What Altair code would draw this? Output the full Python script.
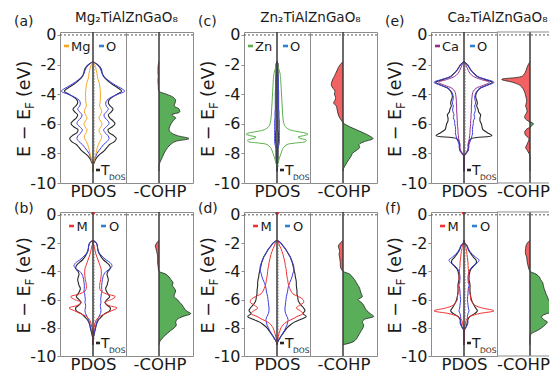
import altair as alt
import pandas as pd

FONT = "DejaVu Sans"

# energy grid (eV) shared by most curves
E_GRID = [-1.8, -2.0, -2.2, -2.4, -2.6, -2.8, -3.0, -3.2, -3.4, -3.6,
          -3.8, -4.0, -4.2, -4.4, -4.6, -4.8, -5.0, -5.2, -5.4, -5.6,
          -5.8, -6.0, -6.2, -6.4, -6.6, -6.8, -7.0, -7.2, -7.4, -7.6,
          -7.8, -8.0, -8.2, -8.4, -8.6, -8.8, -9.0, -9.2]
Y_TICKS = [0, -2, -4, -6, -8, -10]

# ---- (a) Mg2TiAlZnGaO8
A_TOT = [0, 14, 22, 26, 28, 32, 40, 50, 62, 76, 86, 72, 58, 48, 46, 52, 60, 55, 46, 50,
         60, 66, 58, 45, 48, 62, 70, 64, 50, 42, 35, 24, 14, 8, 4, 0, 0, 0]
A_O = [0, 12, 20, 24, 27, 32, 42, 54, 68, 84, 95, 75, 55, 42, 38, 40, 46, 40, 33, 36,
       45, 48, 40, 32, 36, 45, 48, 42, 32, 25, 18, 12, 8, 5, 2, 0, 0, 0]
A_M = [0, 5, 8, 10, 12, 13, 15, 18, 20, 21, 22, 23, 22, 22, 21, 20, 24, 26, 22, 18,
       22, 27, 24, 18, 20, 26, 25, 20, 16, 13, 11, 9, 7, 5, 2, 0, 0, 0]
A_COHP = [0, -2, -3, -3, -3, -2, -3, -3, -2, -2, 0, 22, 42, 50, 48, 46, 60, 62, 38, 50,
          42, 36, 32, 30, 36, 55, 90, 48, 35, 26, 20, 15, 11, 7, 3, 0, 0, 0]

# ---- (c) Zn2TiAlZnGaO8
C_TOT = [0, 3, 3, 3, 3, 3, 3, 3, 3, 3, 3, 3, 3, 3, 3, 3, 3, 3, 3, 3,
         3, 3, 3, 3, 4, 4, 4, 4, 3, 3, 3, 3, 3, 3, 2, 1, 0, 0]
C_O = [0, 0, 0, 0, 0, 3, 4, 4, 4, 4, 5, 5, 5, 5, 5, 5, 5, 6, 6, 6,
       7, 7, 7, 7, 7, 7, 7, 7, 6, 3, 0, 0, 0, 0, 0, 0, 0, 0]
C_ZN_E = [-2.0, -2.2, -2.4, -2.6, -2.8, -3.0, -3.4, -3.8, -4.2, -4.6,
          -5.0, -5.4, -5.8, -6.0, -6.2, -6.4, -6.5, -6.6, -6.7, -6.8,
          -6.9, -7.0, -7.1, -7.2, -7.3, -7.4, -7.6, -7.8, -8.0, -8.2,
          -8.4, -8.6, -8.8, -9.0]
C_M = [0, 4, 7, 9, 10, 11, 12, 13, 14, 15, 16, 17, 19, 21, 25, 38, 55, 80, 93, 80,
       63, 72, 88, 86, 55, 30, 20, 15, 12, 9, 6, 4, 1, 0]
C_COHP = [0, -8, -14, -18, -22, -26, -31, -34, -35, -30, -24, -26, -22, -24, -28, -20, -18, -16, -14, -10,
          -4, 4, 20, 40, 60, 78, 90, 65, 48, 50, 40, 28, 24, 18, 12, 7, 2, 0]

# ---- (e) Ca2TiAlZnGaO8
E_TOT = [0, 10, 16, 22, 30, 40, 62, 85, 68, 48, 40, 36, 35, 38, 40, 38, 42, 44, 50, 48,
         48, 52, 54, 57, 70, 84, 22, 15, 13, 14, 12, 6, 0, 0, 0, 0, 0, 0]
E_O = [0, 10, 15, 21, 29, 40, 66, 90, 70, 48, 38, 34, 32, 33, 35, 32, 34, 33, 30, 32,
       28, 28, 26, 25, 26, 24, 22, 18, 15, 14, 12, 6, 0, 0, 0, 0, 0, 0]
E_M = [0, 5, 9, 13, 18, 28, 50, 76, 58, 36, 28, 25, 24, 23, 23, 22, 22, 22, 21, 21,
       20, 20, 19, 18, 18, 17, 16, 14, 12, 12, 10, 5, 0, 0, 0, 0, 0, 0]
E_COHP = [0, -5, -9, -12, -16, -25, -85, -52, -30, -22, -17, -14, -12, -10, -11, -13, -10, -9, -14, -16,
          -6, 10, 2, -12, -16, -12, -3, -5, -9, -13, -8, -3, 0, 0, 0, 0, 0, 0]

# ---- (b)
B_TOT = [0, 10, 13, 14, 16, 20, 25, 32, 42, 50, 52, 45, 42, 44, 46, 44, 42, 38, 40, 45,
         50, 42, 36, 42, 52, 50, 35, 26, 18, 13, 10, 8, 6, 4, 2, 0, 0, 0]
B_O = [0, 10, 13, 14, 16, 22, 30, 40, 52, 57, 52, 40, 33, 30, 28, 27, 26, 26, 27, 25,
       24, 23, 24, 22, 23, 24, 22, 18, 14, 11, 9, 7, 5, 3, 1, 0, 0, 0]
B_M = [0, 0, 3, 5, 7, 9, 12, 15, 18, 21, 24, 25, 25, 24, 23, 21, 20, 20, 24, 40,
       67, 55, 35, 45, 72, 55, 37, 20, 11, 7, 5, 3, 2, 1, 0, 0, 0, 0]
B_COHP = [0, -7, -11, -9, -7, -5, -4, -4, -4, -3, -2, 0, 20, 30, 36, 42, 40, 46, 50, 47,
          45, 55, 62, 70, 75, 82, 95, 72, 55, 50, 52, 46, 35, 25, 15, 8, 2, 0]

# ---- (d)
D_TOT = [0, 12, 18, 25, 30, 35, 40, 43, 46, 48, 50, 52, 54, 55, 57, 58, 58, 59, 60, 60,
         62, 63, 66, 72, 80, 84, 78, 88, 72, 52, 40, 30, 24, 18, 12, 7, 2, 0]
D_O = [0, 12, 18, 25, 30, 35, 40, 44, 47, 50, 51, 50, 47, 45, 42, 38, 35, 33, 32, 30,
       28, 27, 26, 25, 24, 24, 26, 30, 33, 32, 30, 26, 22, 17, 12, 7, 2, 0]
D_M = [0, 5, 8, 12, 15, 18, 20, 22, 24, 25, 27, 28, 29, 30, 32, 33, 35, 38, 42, 48,
       65, 78, 80, 68, 58, 70, 78, 60, 45, 28, 18, 12, 9, 6, 4, 2, 0, 0]
D_COHP = [0, -8, -14, -12, -10, -12, -10, -9, -8, -8, -6, 0, 20, 28, 35, 40, 45, 50, 52, 55,
          58, 45, 55, 62, 66, 72, 82, 92, 65, 58, 62, 60, 55, 50, 45, 40, 30, 0]

# ---- (f)
F_TOT = [0, 2, 9, 12, 16, 22, 28, 36, 37, 30, 22, 18, 16, 15, 15, 17, 18, 18, 18, 19,
         20, 22, 25, 30, 35, 40, 32, 18, 12, 10, 8, 5, 0, 0, 0, 0, 0, 0]
F_O = [0, 2, 10, 13, 18, 25, 35, 45, 40, 28, 20, 15, 13, 12, 12, 14, 15, 13, 12, 12,
       11, 10, 11, 12, 13, 15, 12, 10, 10, 12, 10, 5, 0, 0, 0, 0, 0, 0]
F_M = [0, 0, 5, 6, 8, 9, 10, 11, 12, 12, 13, 14, 14, 15, 15, 12, 18, 15, 15, 18,
       20, 20, 25, 32, 55, 90, 45, 18, 8, 5, 3, 0, 0, 0, 0, 0, 0, 0]
F_COHP = [0, -8, -12, -13, -14, -13, -10, -9, -8, -6, -4, 0, 18, 28, 32, 38, 40, 42, 45, 48,
          52, 55, 60, 65, 72, 82, 50, 35, 40, 52, 45, 35, 22, 5, 0, 0, 0, 0]

# small M states right at the Fermi level (bottom row)
BLIP_E = [0.2, 0.1, 0.0]
BLIP_M = [5, 4, 0]

# dotted guide span (E top, E bottom) per panel
DOT_SPAN = {"a": [-1.9, -8.7], "c": [-1.9, -8.9], "e": [-1.9, -8.1],
            "b": [-1.9, -8.8], "d": [-1.9, -9.1], "f": [-2.0, -8.2]}

TITLES = {"a": "Mg\u2082TiAlZnGaO\u2088", "c": "Zn\u2082TiAlZnGaO\u2088", "e": "Ca\u2082TiAlZnGaO\u2088"}

COL_TOT = "#262626"
COL_O = "#3d3de0"
COL_O_LEG = "#2f7fd3"
COL_RED_FILL = "#f26262"
COL_GREEN_FILL = "#5aae5a"
FRAME = "#8c8c8c"
TXT = "#1a1a1a"
CURVE = "catmull-rom"

ONE = pd.DataFrame({"k": [0]})

W_P, W_C, W_LAST = 66, 67, 52
FRAMED = alt.ViewBackground(stroke=FRAME, strokeWidth=1)


def curve_df(E, vals):
    rows = []
    for side in (-1, 1):
        for e, v in zip(E, vals):
            rows.append({"E": e, "v": v, "side": side})
    return pd.DataFrame(rows)


def label(x, y, s, size, align="left", baseline="alphabetic", angle=0, color=TXT):
    return alt.Chart(ONE).mark_text(text=s, font=FONT, fontSize=size, align=align,
                                    baseline=baseline, angle=angle, color=color).encode(
        x=alt.value(x), y=alt.value(y))


def dash(x1, x2, y, color):
    return alt.Chart(ONE).mark_rule(color=color, strokeWidth=2.6).encode(
        x=alt.value(x1), x2=alt.value(x2), y=alt.value(y))


def spacer(w, h):
    return alt.Chart(ONE).mark_point(opacity=0).encode(
        x=alt.value(0), y=alt.value(0)).properties(width=w, height=h)


def panel(key, tot, o, m, m_E, m_label, m_color, cohp, h, top_row, w_c):
    ys = alt.Scale(domain=[-10, 0.2], nice=False, zero=False)
    xs = alt.Scale(domain=[-99, 99], nice=False, zero=False)
    xc = alt.Scale(domain=[-99, -99 + 3 * w_c], nice=False, zero=False)
    yax = alt.Axis(values=Y_TICKS, labelExpr="'' + datum.value", title=None, grid=False,
                   domain=False, tickSize=3, tickColor=FRAME, labelPadding=1,
                   labelFontSize=16, labelFont=FONT, labelColor=TXT)
    xax = alt.Axis(title="PDOS", labels=False, ticks=False, domain=False, grid=False,
                   titleFontSize=16.5, titleFont=FONT, titleFontWeight="normal",
                   titleColor=TXT, titlePadding=0)
    xaxc = alt.Axis(title="-COHP", labels=False, ticks=False, domain=False, grid=False,
                    titleFontSize=16.5, titleFont=FONT, titleFontWeight="normal",
                    titleColor=TXT, titlePadding=0)

    def dos(E, vals, color, width):
        return alt.Chart(curve_df(E, vals)).transform_calculate(
            x="datum.side * datum.v").mark_line(color=color, strokeWidth=width,
                                                interpolate=CURVE).encode(
            x=alt.X("x:Q", scale=xs, axis=xax),
            y=alt.Y("E:Q", scale=ys, axis=yax),
            detail="side:N", order="E:Q")

    span = DOT_SPAN[key]
    dotted = alt.Chart(ONE).mark_rule(color="#a8a8a8", strokeWidth=1, strokeDash=[1.5, 1.5]).encode(
        x=alt.XDatum(4, scale=xs, axis=xax), y=alt.YDatum(span[0], scale=ys, axis=yax),
        y2=alt.Y2Datum(span[1]))
    center = alt.Chart(ONE).mark_rule(color="#3a3a3a", strokeWidth=1.5).encode(
        x=alt.XDatum(0, scale=xs, axis=xax))
    zero = alt.Chart(ONE).mark_rule(color="#555555", strokeWidth=1, strokeDash=[2, 2]).encode(
        y=alt.YDatum(0, scale=ys, axis=yax))

    layers = [dotted, dos(E_GRID, tot, COL_TOT, 1.1), dos(E_GRID, o, COL_O, 1.0),
              dos(m_E, m, m_color, 1.0)]
    if not top_row:
        layers.append(dos(BLIP_E, BLIP_M, m_color, 1.2))
    layers += [center, zero]
    # legend
    if m_label == "M":
        layers += [dash(9, 14, 14, m_color), label(16.5, 18.5, m_label, 13),
                   dash(41, 46, 14, COL_O_LEG), label(49, 18.5, "O", 13)]
    else:
        layers += [dash(4, 9, 14, m_color), label(11, 18.5, m_label, 13),
                   dash(39, 44, 14, COL_O_LEG), label(46, 18.5, "O", 13)]
    ty = h - 8
    layers += [dash(36, 40, ty - 5, COL_TOT), label(41, ty, "T", 14), label(49, ty + 4.5, "DOS", 7.5)]
    # y title  E - E_F (eV)
    yj = h / 2 + 1.5
    layers += [label(-30, yj, "E \u2212 E", 17.5, align="right", angle=270),
               label(-26.5, yj, "F", 12, align="left", angle=270),
               label(-30, yj - 12, "(eV)", 17.5, align="left", angle=270)]
    # panel letter and title
    layers += [label(-46, -6.5 if top_row else 0.5, "(" + key + ")", 14)]
    if top_row:
        layers += [label((W_P + W_C) / 2, -10, TITLES[key], 13.5, align="center")]
    pdos = alt.layer(*layers).properties(width=W_P, height=h, view=FRAMED)

    cdf = pd.DataFrame({"E": E_GRID, "v": cohp})
    red = alt.Chart(cdf).transform_calculate(n="min(datum.v, 0)").mark_area(
        orient="horizontal", color=COL_RED_FILL, clip=True, interpolate=CURVE).encode(
        x=alt.X("n:Q", scale=xc, axis=xaxc),
        y=alt.Y("E:Q", scale=ys, axis=None))
    green = alt.Chart(cdf).transform_calculate(p="max(datum.v, 0)").mark_area(
        orient="horizontal", color=COL_GREEN_FILL, clip=True, interpolate=CURVE).encode(
        x=alt.X("p:Q", scale=xc, axis=xaxc),
        y=alt.Y("E:Q", scale=ys, axis=None))
    outline = alt.Chart(cdf).mark_line(color="#222222", strokeWidth=0.8, clip=True,
                                       interpolate=CURVE).encode(
        x=alt.X("v:Q", scale=xc, axis=xaxc), y=alt.Y("E:Q", scale=ys, axis=None), order="E:Q")
    c_center = alt.Chart(ONE).mark_rule(color="#3a3a3a", strokeWidth=1.5).encode(
        x=alt.XDatum(0, scale=xc, axis=xaxc))
    c_zero = alt.Chart(ONE).mark_rule(color="#555555", strokeWidth=1, strokeDash=[2, 2]).encode(
        y=alt.YDatum(0, scale=ys, axis=None))
    c_layers = [red, green, outline, c_center, c_zero]
    if w_c == W_C:
        cohp_chart = alt.layer(*c_layers).properties(width=w_c, height=h, view=FRAMED)
    else:
        # right-most column runs off the page edge: frame only top and bottom
        c_layers += [alt.Chart(ONE).mark_rule(color=FRAME, strokeWidth=1).encode(
                         y=alt.YDatum(0.2, scale=ys, axis=None)),
                     alt.Chart(ONE).mark_rule(color=FRAME, strokeWidth=1).encode(
                         y=alt.YDatum(-10, scale=ys, axis=None))]
        cohp_chart = alt.layer(*c_layers).properties(width=w_c, height=h)
    return [pdos, cohp_chart]


H_TOP, H_BOT = 151, 144

pa = panel("a", A_TOT, A_O, A_M, E_GRID, "Mg", "#f5a623", A_COHP, H_TOP, True, W_C)
pc = panel("c", C_TOT, C_O, C_M, C_ZN_E, "Zn", "#5bb04a", C_COHP, H_TOP, True, W_C)
pe = panel("e", E_TOT, E_O, E_M, E_GRID, "Ca", "#93308f", E_COHP, H_TOP, True, W_LAST)
pb = panel("b", B_TOT, B_O, B_M, E_GRID, "M", "#f03232", B_COHP, H_BOT, False, W_C)
pd_ = panel("d", D_TOT, D_O, D_M, E_GRID, "M", "#f03232", D_COHP, H_BOT, False, W_C)
pf = panel("f", F_TOT, F_O, F_M, E_GRID, "M", "#f03232", F_COHP, H_BOT, False, W_LAST)

cells = (pa + [spacer(51, H_TOP)] + pc + [spacer(54, H_TOP)] + pe
         + pb + [spacer(51, H_BOT)] + pd_ + [spacer(54, H_BOT)] + pf)

chart = alt.concat(*cells, columns=8, spacing=alt.RowColnumber(row=29, column=0),
                   bounds="flush").properties(
    padding={"left": 5, "top": 2, "right": 0, "bottom": 0}
).configure_view(stroke=None)

chart.save("out.html", embed_options={"renderer": "svg", "actions": False})
